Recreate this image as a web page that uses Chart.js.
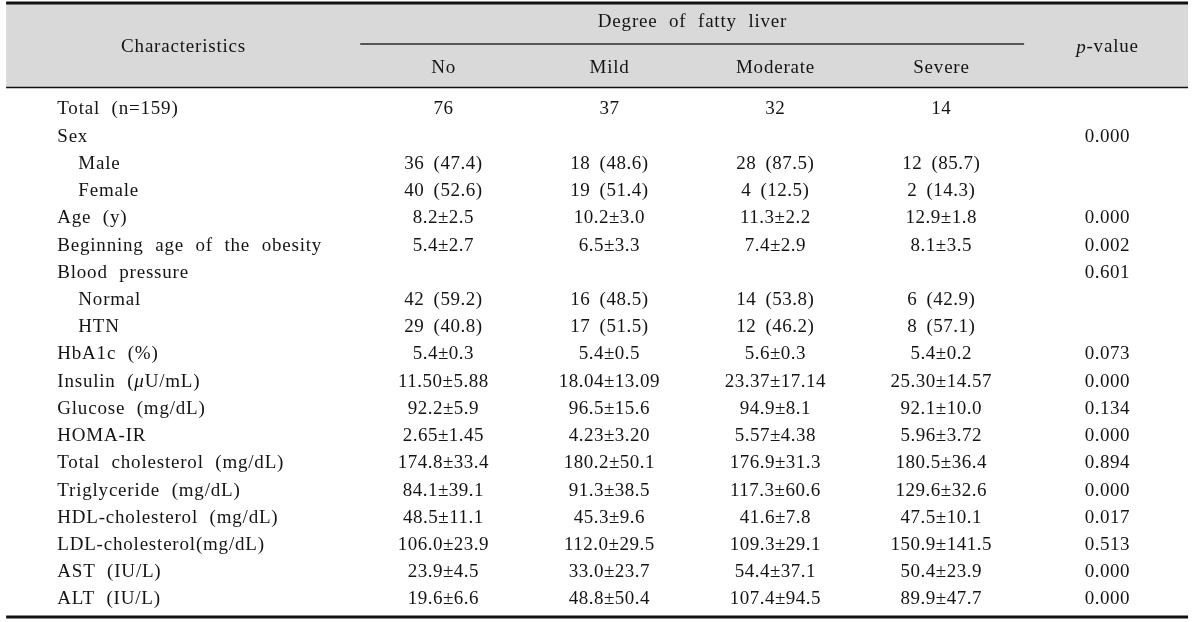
<!DOCTYPE html>
<html>
<head>
<meta charset="utf-8">
<script src="https://cdn.jsdelivr.net/npm/chart.js@4"></script>
<style>
  body { margin: 0; background: #fff; }
  #wrap { width: 1200px; height: 622px; position: relative; }
</style>
</head>
<body>
<div id="wrap"><canvas id="fatty_liver_table"></canvas></div>
<script>
// Table text, one array per column.  _x_ marks italic text.
var stubTitle = "Characteristics";
var groupTitle = "Degree of fatty liver";
var columnLabels = ["No", "Mild", "Moderate", "Severe"];
var pTitle = "_p_-value";

var rowLabels = [
  "Total (n=159)", "Sex", "Male", "Female", "Age (y)",
  "Beginning age of the obesity", "Blood pressure", "Normal", "HTN",
  "HbA1c (%)", "Insulin (_\u03bc_U/mL)", "Glucose (mg/dL)", "HOMA-IR",
  "Total cholesterol (mg/dL)", "Triglyceride (mg/dL)",
  "HDL-cholesterol (mg/dL)", "LDL-cholesterol(mg/dL)", "AST (IU/L)", "ALT (IU/L)"
];
// sub-rows (Male/Female, Normal/HTN) are indented
var indentedRows = [2, 3, 7, 8];

var noValues = ["76", "", "36 (47.4)", "40 (52.6)", "8.2\u00b12.5", "5.4\u00b12.7", "",
  "42 (59.2)", "29 (40.8)", "5.4\u00b10.3", "11.50\u00b15.88", "92.2\u00b15.9", "2.65\u00b11.45",
  "174.8\u00b133.4", "84.1\u00b139.1", "48.5\u00b111.1", "106.0\u00b123.9", "23.9\u00b14.5", "19.6\u00b16.6"];
var mildValues = ["37", "", "18 (48.6)", "19 (51.4)", "10.2\u00b13.0", "6.5\u00b13.3", "",
  "16 (48.5)", "17 (51.5)", "5.4\u00b10.5", "18.04\u00b113.09", "96.5\u00b115.6", "4.23\u00b13.20",
  "180.2\u00b150.1", "91.3\u00b138.5", "45.3\u00b19.6", "112.0\u00b129.5", "33.0\u00b123.7", "48.8\u00b150.4"];
var moderateValues = ["32", "", "28 (87.5)", "4 (12.5)", "11.3\u00b12.2", "7.4\u00b12.9", "",
  "14 (53.8)", "12 (46.2)", "5.6\u00b10.3", "23.37\u00b117.14", "94.9\u00b18.1", "5.57\u00b14.38",
  "176.9\u00b131.3", "117.3\u00b160.6", "41.6\u00b17.8", "109.3\u00b129.1", "54.4\u00b137.1", "107.4\u00b194.5"];
var severeValues = ["14", "", "12 (85.7)", "2 (14.3)", "12.9\u00b11.8", "8.1\u00b13.5", "",
  "6 (42.9)", "8 (57.1)", "5.4\u00b10.2", "25.30\u00b114.57", "92.1\u00b110.0", "5.96\u00b13.72",
  "180.5\u00b136.4", "129.6\u00b132.6", "47.5\u00b110.1", "150.9\u00b1141.5", "50.4\u00b123.9", "89.9\u00b147.7"];
var pValues = ["", "0.000", "", "", "0.000", "0.002", "0.601", "", "", "0.073", "0.000",
  "0.134", "0.000", "0.894", "0.000", "0.017", "0.513", "0.000", "0.000"];

// layout in scale units: x = column index (1..4 groups, 5 = p), y = row index
var X_MIN = -1.67, X_MAX = 5.56;
var Y_MIN = -3.968, Y_MAX = 18.883;
var STUB_X = -1.325, INDENT = 0.127;
var TABLE_LEFT = -1.633, TABLE_RIGHT = 5.488;
var HEAD_TOP = -3.857, HEAD_RULE = -2.351, HEAD_BOTTOM = -0.753, TABLE_BOTTOM = 18.70;
var GROUP_ROW = -3.196, SUB_ROW = -1.506, TITLE_ROW = -2.278;

var FONT = '"Liberation Serif", "Times New Roman", serif';
var FONT_SIZE = 19;
var TEXT_COLOR = "#141414";

function cells(col, values) {
  var out = [];
  values.forEach(function (t, i) {
    if (t !== "") out.push({ x: col, y: i, text: t });
  });
  return out;
}

var stubCells = rowLabels.map(function (t, i) {
  return { x: STUB_X + (indentedRows.indexOf(i) >= 0 ? INDENT : 0), y: i, text: t };
});

var headerCells = [
  { x: (TABLE_LEFT + 0.5) / 2, y: TITLE_ROW, text: stubTitle },
  { x: 2.5, y: GROUP_ROW, text: groupTitle },
  { x: 5, y: TITLE_ROW, text: pTitle }
].concat(columnLabels.map(function (t, i) { return { x: i + 1, y: SUB_ROW, text: t }; }));

function setFont(ctx, italic, sp) {
  ctx.font = (italic ? "italic " : "") + FONT_SIZE + "px " + FONT;
  ctx.letterSpacing = sp.letter + "px";
  ctx.wordSpacing = sp.word + "px";
}

function drawRich(ctx, text, x, y, align, sp) {
  var parts = text.split("_");
  var widths = parts.map(function (p, i) { setFont(ctx, i % 2 === 1, sp); return ctx.measureText(p).width; });
  var total = widths.reduce(function (a, b) { return a + b; }, 0) - sp.letter;
  var cx = align === "center" ? x - total / 2 : x;
  ctx.textAlign = "left";
  ctx.textBaseline = "middle";
  parts.forEach(function (p, i) {
    setFont(ctx, i % 2 === 1, sp);
    ctx.fillText(p, cx, y + 1.5);
    cx += widths[i];
  });
}

var tablePlugin = {
  id: "tableText",
  beforeDatasetsDraw: function (chart) {
    var ctx = chart.ctx, xs = chart.scales.x, ys = chart.scales.y;
    var l = xs.getPixelForValue(TABLE_LEFT), r = xs.getPixelForValue(TABLE_RIGHT);
    ctx.save();
    // grey header band
    ctx.fillStyle = "#d9d9d9";
    ctx.fillRect(l, ys.getPixelForValue(HEAD_TOP), r - l,
      ys.getPixelForValue(HEAD_BOTTOM) - ys.getPixelForValue(HEAD_TOP));
    function rule(y, x0, x1, w, color) {
      ctx.strokeStyle = color;
      ctx.lineWidth = w;
      ctx.beginPath();
      ctx.moveTo(x0, ys.getPixelForValue(y));
      ctx.lineTo(x1, ys.getPixelForValue(y));
      ctx.stroke();
    }
    rule(HEAD_TOP, l, r, 3, "#111");
    rule(HEAD_RULE, xs.getPixelForValue(0.5), xs.getPixelForValue(4.5), 2, "#555");
    rule(HEAD_BOTTOM, l, r, 1.5, "#111");
    rule(TABLE_BOTTOM, l, r, 3, "#111");
    ctx.restore();
  },
  afterDatasetsDraw: function (chart) {
    var ctx = chart.ctx;
    ctx.save();
    ctx.fillStyle = TEXT_COLOR;
    chart.data.datasets.forEach(function (ds, di) {
      var meta = chart.getDatasetMeta(di);
      meta.data.forEach(function (pt, i) {
        drawRich(ctx, ds.data[i].text, pt.x, pt.y, ds.textAlign, ds.spacing);
      });
    });
    ctx.restore();
  }
};

var labelSpacing = { letter: 0.8, word: 6 };
var valueSpacing = { letter: 0.5, word: 4 };

function textSet(label, data, align, spacing) {
  return { label: label, data: data, textAlign: align, spacing: spacing, pointRadius: 0, pointHoverRadius: 0 };
}

new Chart(document.getElementById("fatty_liver_table"), {
  type: "scatter",
  data: {
    datasets: [
      textSet("header", headerCells, "center", labelSpacing),
      textSet("Characteristics", stubCells, "left", labelSpacing),
      textSet("No", cells(1, noValues), "center", valueSpacing),
      textSet("Mild", cells(2, mildValues), "center", valueSpacing),
      textSet("Moderate", cells(3, moderateValues), "center", valueSpacing),
      textSet("Severe", cells(4, severeValues), "center", valueSpacing),
      textSet("p-value", cells(5, pValues), "center", valueSpacing)
    ]
  },
  options: {
    responsive: true,
    maintainAspectRatio: false,
    animation: false,
    layout: { padding: 0 },
    plugins: { legend: { display: false }, tooltip: { enabled: false } },
    scales: {
      x: { type: "linear", min: X_MIN, max: X_MAX, display: false },
      y: { type: "linear", min: Y_MIN, max: Y_MAX, reverse: true, display: false }
    }
  },
  plugins: [tablePlugin]
});
</script>
</body>
</html>
